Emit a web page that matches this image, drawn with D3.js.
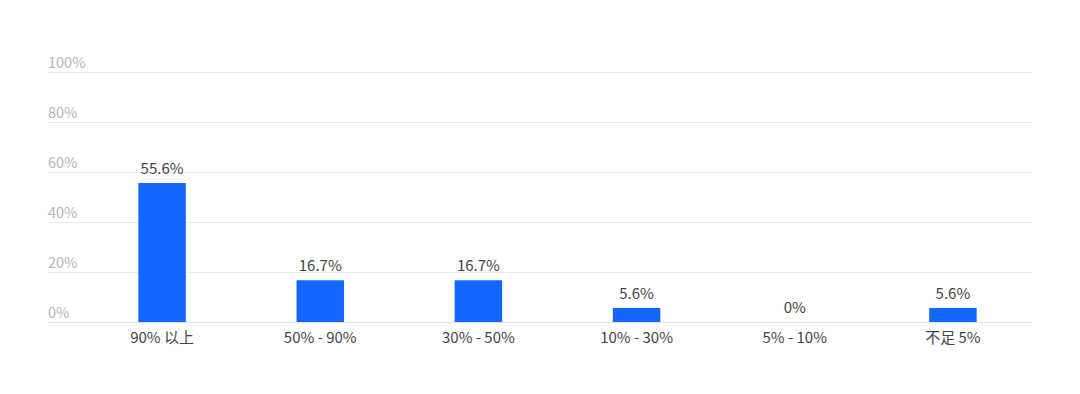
<!DOCTYPE html>
<html>
<head>
<meta charset="utf-8">
<script src="https://cdn.jsdelivr.net/npm/d3@7"></script>
<style>
  body { margin: 0; background: #fff; }
  svg text { font-family: "Noto Sans CJK SC", "Noto Sans", sans-serif; }
</style>
</head>
<body>
<svg class="chart"></svg>
<script>
// chart data
var categories = ["90% 以上", "50% - 90%", "30% - 50%", "10% - 30%", "5% - 10%", "不足 5%"];
var values = [55.6, 16.7, 16.7, 5.6, 0, 5.6];
var valueLabels = ["55.6%", "16.7%", "16.7%", "5.6%", "0%", "5.6%"];
var yTicks = [0, 20, 40, 60, 80, 100];

var width = 1080, height = 394;
var gridLeft = 48, plotLeft = 83, plotRight = 1032;
var plotTop = 72, plotBottom = 322;

var chart = d3.select(".chart")
    .attr("width", width)
    .attr("height", height);

var x = d3.scaleBand()
    .domain(categories)
    .range([plotLeft, plotRight])
    .paddingInner(0.7)
    .paddingOuter(0.35);

var y = d3.scaleLinear()
    .domain([0, 100])
    .range([plotBottom, plotTop]);

// grid lines + y labels
var grid = chart.append("g").attr("class", "grid");
grid.selectAll("line")
    .data(yTicks)
    .enter().append("line")
    .attr("x1", gridLeft)
    .attr("x2", plotRight)
    .attr("y1", function (d) { return y(d) + 0.5; })
    .attr("y2", function (d) { return y(d) + 0.5; })
    .attr("stroke", function (d) { return d === 0 ? "#dde3ee" : "#e9ecf2"; })
    .attr("stroke-width", 1);

grid.selectAll("text")
    .data(yTicks)
    .enter().append("text")
    .attr("x", gridLeft)
    .attr("y", function (d) { return y(d) - 4; })
    .attr("fill", "#b5b5b5")
    .attr("font-size", "14.5px")
    .text(function (d) { return d + "%"; });

// bars
chart.append("g").selectAll("rect")
    .data(values)
    .enter().append("rect")
    .attr("x", function (d, i) { return x(categories[i]); })
    .attr("width", x.bandwidth())
    .attr("y", function (d) { return y(d); })
    .attr("height", function (d) { return y(0) - y(d); })
    .attr("fill", "#1366ff");

// value labels
chart.append("g").selectAll("text")
    .data(values)
    .enter().append("text")
    .attr("x", function (d, i) { return x(categories[i]) + x.bandwidth() / 2; })
    .attr("y", function (d) { return y(d) - 9; })
    .attr("text-anchor", "middle")
    .attr("fill", "#444")
    .attr("font-size", "15px")
    .text(function (d, i) { return valueLabels[i]; });

// x axis labels
chart.append("g").selectAll("text")
    .data(categories)
    .enter().append("text")
    .attr("x", function (d) { return x(d) + x.bandwidth() / 2; })
    .attr("y", plotBottom + 21)
    .attr("text-anchor", "middle")
    .attr("fill", "#444")
    .attr("font-size", "15px")
    .text(function (d) { return d; });
</script>
</body>
</html>
